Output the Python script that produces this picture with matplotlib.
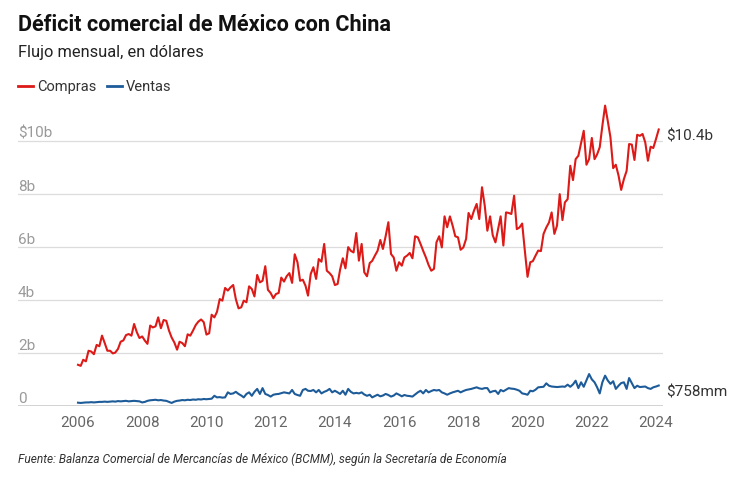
import matplotlib
matplotlib.use("Agg")
import matplotlib.pyplot as plt
import matplotlib.dates as mdates
import pandas as pd
import numpy as np

# ---------------- data (billions of USD, monthly, Jan 2006 - Feb 2024) ----------------
start_month = "2006-01-01"

compras = [
    1.54, 1.50, 1.73, 1.67, 2.07, 2.04, 1.94, 2.29, 2.24, 2.64, 2.36, 2.07,
    2.07, 1.97, 2.00, 2.14, 2.41, 2.46, 2.66, 2.70, 2.64, 3.08, 2.77, 2.55,
    2.61, 2.45, 2.33, 3.02, 2.95, 2.99, 3.33, 2.92, 3.23, 3.20, 2.83, 2.57,
    2.38, 2.11, 2.41, 2.36, 2.24, 2.69, 2.64, 2.83, 3.04, 3.17, 3.25, 3.15,
    2.68, 2.73, 3.43, 3.33, 3.54, 4.02, 3.96,
    4.44, 4.34, 4.46, 4.55, 4.02, 3.67, 3.71, 3.96, 3.90, 4.50,
    4.40, 4.12, 4.93, 4.65, 4.71, 5.26, 4.37, 4.25, 4.05, 4.21,
    4.25, 4.83, 4.68, 4.88, 5.00, 4.63, 5.71, 5.41, 4.71, 4.75,
    4.52, 4.15, 4.97, 5.22, 4.78, 5.53, 5.43, 6.10, 5.09, 5.00,
    4.88, 4.55, 4.59, 5.13, 5.56, 5.18, 5.98, 5.84, 5.78, 6.51,
    5.47,
    6.10, 5.03, 4.88, 5.38, 5.46, 5.66, 5.84, 6.25, 5.91, 6.39,
    6.92, 5.72, 5.59, 5.09, 5.41, 5.28, 5.59, 5.66, 5.76, 5.56,
    6.39, 6.35, 6.10, 5.84, 5.59, 5.31, 5.09, 5.16, 6.16, 6.39,
    5.97, 7.14, 6.73, 7.14, 6.79, 6.39, 6.35, 5.88, 5.97, 6.29,
    7.27, 7.04, 7.35, 7.61, 7.04, 8.24, 7.55, 6.60, 7.14, 6.43,
    6.16, 6.67, 7.14, 6.04, 7.29, 7.27, 7.23,
    7.92, 6.66, 6.72, 6.87, 5.85, 4.86, 5.41, 5.45, 5.66, 5.85,
    5.83, 6.48, 6.72, 6.91, 7.29, 6.48, 6.79, 7.98, 7.00, 7.67,
    7.79, 9.05, 8.51, 9.30, 9.43, 9.90, 10.37, 9.09, 9.30, 10.10,
    9.30, 9.47, 9.75, 10.56, 11.32, 10.75, 10.12, 8.96, 9.09, 8.68,
    8.14, 8.55, 8.86, 9.87, 9.85, 9.27, 10.22, 10.18, 10.25, 9.93,
    9.24, 9.77, 9.72, 10.06, 10.42,
]

ventas = [
    0.11, 0.10, 0.11, 0.12, 0.12, 0.13, 0.12, 0.13, 0.14, 0.14, 0.15, 0.14,
    0.15, 0.16, 0.15, 0.17, 0.16, 0.17, 0.18, 0.16, 0.17, 0.18, 0.17, 0.16,
    0.12, 0.14, 0.18, 0.20, 0.21, 0.22, 0.20, 0.21, 0.19, 0.18, 0.14, 0.10,
    0.15, 0.18, 0.19, 0.21, 0.20, 0.22, 0.21, 0.23, 0.22, 0.24, 0.23, 0.25,
    0.24, 0.25, 0.26, 0.37, 0.31, 0.32, 0.30, 0.31, 0.50, 0.44, 0.46, 0.52,
    0.44, 0.38, 0.31, 0.44, 0.50, 0.37, 0.52, 0.63, 0.44, 0.66, 0.44, 0.40,
    0.34, 0.41, 0.43, 0.44, 0.47, 0.50, 0.48, 0.46, 0.59, 0.44, 0.40, 0.37,
    0.59, 0.63, 0.56, 0.55, 0.59, 0.50, 0.59, 0.46, 0.52, 0.56, 0.63, 0.50,
    0.56, 0.50, 0.44, 0.56, 0.41, 0.63, 0.52, 0.46, 0.48, 0.46, 0.50, 0.42,
    0.37, 0.41, 0.31, 0.36, 0.41, 0.35, 0.38, 0.44, 0.40, 0.34, 0.38, 0.46,
    0.41, 0.35, 0.40, 0.37, 0.36, 0.34, 0.42, 0.50, 0.56, 0.46, 0.59, 0.50,
    0.55, 0.59, 0.57, 0.59, 0.50, 0.46, 0.41, 0.46, 0.50, 0.53, 0.56, 0.50,
    0.55, 0.59, 0.61, 0.63, 0.66, 0.69, 0.65, 0.63, 0.66, 0.66, 0.50, 0.54,
    0.56, 0.44, 0.59, 0.54, 0.60, 0.66, 0.64, 0.63, 0.60, 0.56, 0.46, 0.44,
    0.41, 0.56, 0.54, 0.60, 0.69, 0.70, 0.71, 0.84, 0.75, 0.72, 0.71, 0.70,
    0.71, 0.72, 0.71, 0.79, 0.71, 0.80, 0.94, 0.66, 0.88, 0.71, 0.95, 1.19,
    0.99, 0.88, 0.70, 0.46, 0.88, 1.13, 0.95, 0.82, 0.92, 0.63, 0.75, 0.85,
    0.88, 0.63, 1.04, 0.85, 0.66, 0.75, 0.70, 0.71, 0.72, 0.66, 0.63, 0.69,
    0.72, 0.758,
]

y_ticks = [0, 2, 4, 6, 8, 10]
y_labels = ["0", "2b", "4b", "6b", "8b", "$10b"]
x_years = [2006, 2008, 2010, 2012, 2014, 2016, 2018, 2020, 2022, 2024]
end_labels = ["$10.4b", "$758mm"]
legend_names = ["Compras", "Ventas"]

title = "Déficit comercial de México con China"
subtitle = "Flujo mensual, en dólares"
source = "Fuente: Balanza Comercial de Mercancías de México (BCMM), según la Secretaría de Economía"

# ---------------- style ----------------
RED = "#dc1a17"
BLUE = "#1d5c99"
FONT = ["Roboto", "DejaVu Sans"]
plt.rcParams["font.family"] = FONT

W, H = 738, 481
fig = plt.figure(figsize=(W / 100, H / 100), dpi=100)
fig.patch.set_facecolor("white")

left_px, right_px = 18, 663
bottom_px, top_px = 406.6, 99.2
ax = fig.add_axes([left_px / W, 1 - bottom_px / H,
                   (right_px - left_px) / W, (bottom_px - top_px) / H])

dates = pd.date_range(start_month, periods=len(compras), freq="MS")

# x limits: 2006-01-01 at px 78, 2024-01-01 at px 656
d0 = mdates.date2num(pd.Timestamp("2006-01-01"))
d1 = mdates.date2num(pd.Timestamp("2024-01-01"))
per_px = (d1 - d0) / (656 - 78)
ax.set_xlim(d0 - (78 - left_px) * per_px, d0 + (right_px - 78) * per_px)
ax.set_ylim(0, 11.6)

for v in y_ticks[1:]:
    ax.axhline(v, color="#dcdcdc", lw=0.9, zorder=1)
ax.axhline(0, color="#222222", lw=1.0, zorder=3)

ax.plot(dates, compras, color=RED, lw=1.5, zorder=4, solid_joinstyle="round")
ax.plot(dates, ventas, color=BLUE, lw=1.5, zorder=4, solid_joinstyle="round")

for sp in ax.spines.values():
    sp.set_visible(False)
ax.set_yticks([])
ax.set_xticks([mdates.date2num(pd.Timestamp(f"{y}-01-01")) for y in x_years])
ax.set_xticklabels([str(y) for y in x_years], fontsize=11, color="#666666")
ax.tick_params(axis="x", length=0, pad=7)

# y labels above gridlines
for v, lab in zip(y_ticks, y_labels):
    ax.annotate(lab, xy=(0, v), xycoords=("axes fraction", "data"),
                xytext=(0, 0.5), textcoords="offset points",
                ha="left", va="bottom", fontsize=11, color="#9a9a9a")

# end labels
ax.annotate(end_labels[0], xy=(dates[-1], compras[-1]), xytext=(5, -4),
            textcoords="offset points", ha="left", va="center",
            fontsize=11, color="#333333", annotation_clip=False)
ax.annotate(end_labels[1], xy=(dates[-1], ventas[-1]), xytext=(5, -4),
            textcoords="offset points", ha="left", va="center",
            fontsize=11, color="#333333", annotation_clip=False)

# titles
fig.text(18 / W, 1 - 25 / H, title, fontsize=15.6, fontweight="bold",
         color="#111111", ha="left", va="center")
fig.text(18 / W, 1 - 52 / H, subtitle, fontsize=11.8, color="#222222",
         ha="left", va="center")

# legend
ly = 1 - 87 / H
fig.add_artist(plt.Line2D([18 / W, 33 / W], [ly, ly], color=RED, lw=2))
fig.text(37 / W, ly, legend_names[0], fontsize=10.5, color="#333333",
         ha="left", va="center")
fig.add_artist(plt.Line2D([107 / W, 122 / W], [ly, ly], color=BLUE, lw=2))
fig.text(126 / W, ly, legend_names[1], fontsize=10.5, color="#333333",
         ha="left", va="center")

fig.text(18 / W, 1 - 459 / H, source, fontsize=8.6, style="italic",
         color="#333333", ha="left", va="center")

fig.savefig("out.png", dpi=100, facecolor="white")
